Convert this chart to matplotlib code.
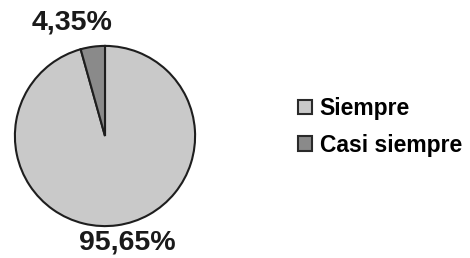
import matplotlib.pyplot as plt

# datos
categorias = ['Siempre', 'Casi siempre']
porcentajes = [95.65, 4.35]
etiquetas = ['95,65%', '4,35%']
colores = ['#c9c9c9', '#8a8a8a']

plt.rcParams['font.family'] = ['Liberation Sans', 'DejaVu Sans']
plt.rcParams['font.weight'] = 'bold'

fig = plt.figure(figsize=(4.7, 2.58), dpi=100)
ax = fig.add_axes([14 / 470, 31 / 258, 182 / 470, 182 / 258])

wedges, _ = ax.pie(porcentajes, colors=colores, startangle=90, counterclock=False,
                   wedgeprops=dict(edgecolor='#1e1e1e', linewidth=1.5))
ax.set_xlim(-1.01, 1.01)
ax.set_ylim(-1.01, 1.01)
ax.set_aspect('equal')

# etiquetas de porcentaje
fig.text(72 / 470, 1 - 23 / 258, etiquetas[1], ha='center', va='center',
         fontsize=20.5, fontweight='bold', color='#1a1a1a')
fig.text(127 / 470, 1 - 243 / 258, etiquetas[0], ha='center', va='center',
         fontsize=20.5, fontweight='bold', color='#1a1a1a')

leg = fig.legend(wedges, categorias, loc='center left',
                 bbox_to_anchor=(277 / 470, 1 - 127 / 258), frameon=False,
                 prop=dict(size=16.5, weight='bold'), handlelength=0.62,
                 handleheight=0.62, handletextpad=0.35, labelspacing=0.6)
for h in leg.legend_handles:
    h.set_edgecolor('#2a2a2a')
    h.set_linewidth(1.5)

plt.savefig('out.png', dpi=100)
